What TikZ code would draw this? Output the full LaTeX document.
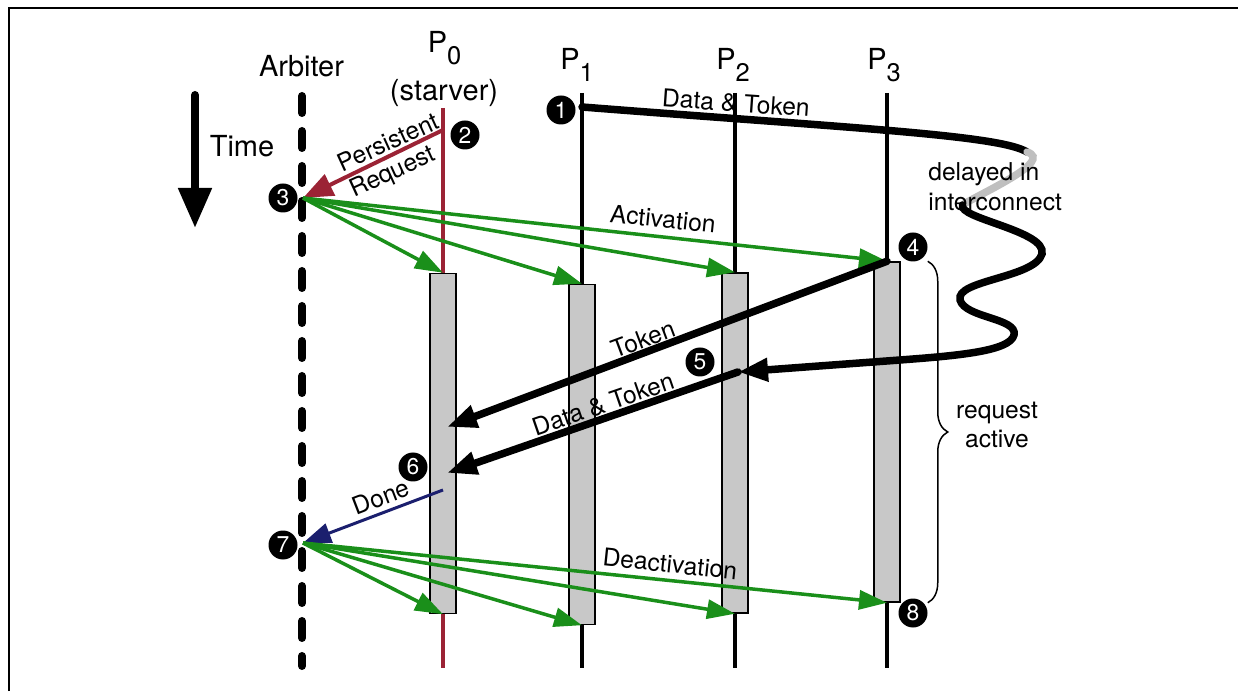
\documentclass[tikz,border=0pt]{standalone}
\usepackage{fontspec}
\setmainfont{TeX Gyre Heros}
\usepackage{tikz}
\usepackage{xcolor}
\usetikzlibrary{arrows.meta,positioning,decorations.pathreplacing}
\definecolor{ReqRed}{HTML}{9B2335}
\definecolor{ActGreen}{HTML}{1A8F1A}
\definecolor{DoneBlue}{HTML}{1B1F6E}
\definecolor{BarGray}{HTML}{C8C8C8}
\definecolor{WireGray}{HTML}{BFBFBF}
\newcommand{\proc}[1]{P\raisebox{-6.8pt}{\fontsize{14.5}{17}\selectfont #1}}

\begin{document}
\begin{tikzpicture}[
  head/.style={font=\fontsize{16.5}{19}\selectfont,anchor=base,inner sep=0pt},
  msg/.style={font=\fontsize{14}{17}\selectfont,inner sep=0pt},
  num/.style={circle,fill=black,text=white,inner sep=0pt,minimum size=0.58cm,font=\fontsize{13}{15}\selectfont},
  life/.style={line width=0.07cm},
  bar/.style={draw=black,fill=BarGray,line width=0.03cm,minimum width=0.52cm,minimum height=6.8cm,inner sep=0pt},
  act/.style={ActGreen,line width=0.07cm,-{Triangle[length=0.56cm,width=0.38cm]}},
  heavy/.style={line width=0.15cm,line cap=round,-{Triangle[length=0.6cm,width=0.44cm]}}
]
\useasboundingbox (0,0) rectangle (24.76,13.82);
\draw[line width=0.03cm] (0.18,0) -- (0.18,13.66) -- (24.76,13.66);

\coordinate (arbtop) at (6.04,11.9);
\coordinate (arbbot) at (6.04,0.5);
\coordinate (p0top) at (8.86,11.66);
\coordinate (p0bot) at (8.86,0.46);
\coordinate (p1top) at (11.64,11.96);
\coordinate (p1bot) at (11.64,0.46);
\coordinate (p2top) at (14.70,11.96);
\coordinate (p2bot) at (14.70,0.46);
\coordinate (p3top) at (17.74,11.96);
\coordinate (p3bot) at (17.74,0.46);

\node[head] (arb) at (6.03,12.28) {Arbiter};
\node[head] (p0) at (8.89,12.76) {\proc{0}};
\node[head] (starver) at (8.88,11.8) {(starver)};
\node[head] (p1) at (11.54,12.42) {\proc{1}};
\node[head] (p2) at (14.66,12.42) {\proc{2}};
\node[head] (p3) at (17.68,12.42) {\proc{3}};

\coordinate (t0) at (3.9,11.92);
\coordinate (t1) at (3.9,9.26);
\draw[line width=0.16cm,line cap=round,-{Triangle[length=0.8cm,width=0.64cm]}] (t0) -- (t1);
\node[head] (time) at (4.84,10.68) {Time};

\draw[line width=0.16cm,line cap=round,dash pattern=on 0.34cm off 0.36cm] (arbtop) -- (arbbot);
\draw[life,ReqRed] (p0top) -- (p0bot);
\draw[life] (p1top) -- (p1bot);
\draw[life] (p2top) -- (p2bot);
\draw[life] (p3top) -- (p3bot);

\node[bar] (a0) at (8.86,4.95) {};
\node[bar] (a1) at (11.64,4.73) {};
\node[bar] (a2) at (14.70,4.96) {};
\node[bar] (a3) at (17.74,5.18) {};

\coordinate (req) at (6.06,9.86);
\coordinate (rel) at (6.06,2.96);
\coordinate (ask) at (8.86,11.22);
\coordinate (fin) at (8.86,4.02);
\coordinate (send) at (11.64,11.68);
\coordinate (bend) at (20.54,10.78);
\coordinate (dip) at (19.25,9.72);
\coordinate (dt) at (14.76,6.38);
\coordinate (tokend) at (8.94,5.28);
\coordinate (dtend) at (8.94,4.36);

\draw[line width=0.15cm,line cap=round] (send) .. controls (17.0,11.26) and (20.0,11.12) .. (bend);
\draw[WireGray,line width=0.15cm,line cap=round] (bend) .. controls (21.1,10.6) and (19.6,9.95) .. (dip);
\draw[heavy] (dip) .. controls (19.15,9.45) and (20.95,9.2) .. (20.84,8.74)
  .. controls (20.7,8.26) and (19.1,8.22) .. (19.2,7.82)
  .. controls (19.3,7.46) and (20.36,7.46) .. (20.28,7.12)
  .. controls (20.2,6.8) and (19.2,6.71) .. (18.0,6.62) -- (dt);
\node[msg,rotate=-4] (ldata) at (14.72,11.76) {Data \& Token};
\node[msg,align=left,anchor=west] (ldelay) at (18.56,10.08) {delayed in\\interconnect};

\draw[ReqRed,line width=0.08cm,-{Triangle[length=0.6cm,width=0.46cm]}] (ask) -- (req);
\node[msg,rotate=24.5] (lpers) at (7.76,10.98) {Persistent};
\node[msg,rotate=24.5] (lreq) at (7.86,10.36) {Request};

\foreach \b in {a0,a1,a2,a3}
  \draw[act] (req) -- (\b.north);
\node[msg,rotate=-6] (lact) at (13.26,9.44) {Activation};

\draw[heavy] (a3.north) -- (tokend);
\node[msg,rotate=20.5] (ltok) at (12.86,7.04) {Token};
\draw[heavy] (dt) -- (dtend);
\node[msg,rotate=19] (ldt) at (12.06,5.74) {Data \& Token};

\draw[DoneBlue,line width=0.06cm,-{Triangle[length=0.56cm,width=0.4cm]}] (fin) -- (rel);
\node[msg,rotate=21] (ldone) at (7.62,3.88) {Done};

\foreach \b in {a0,a1,a2,a3}
  \draw[act] (rel) -- (\b.south);
\node[msg,rotate=-6] (ldeact) at (13.4,2.54) {Deactivation};

\draw[line width=0.03cm,decorate,decoration={brace,amplitude=0.4cm}] ([xshift=0.54cm]a3.north east) -- ([xshift=0.54cm]a3.south east);
\node[msg,align=center] (lactive) at (19.94,5.32) {request\\active};

\node[num] (m1) at (11.22,11.62) {1};
\node[num] (m2) at (9.30,11.12) {2};
\node[num] (m3) at (5.66,9.86) {3};
\node[num] (m4) at (18.26,8.88) {4};
\node[num] (m5) at (14.0,6.58) {5};
\node[num] (m6) at (8.26,4.48) {6};
\node[num] (m7) at (5.66,2.92) {7};
\node[num] (m8) at (18.26,1.56) {8};
\end{tikzpicture}
\end{document}
